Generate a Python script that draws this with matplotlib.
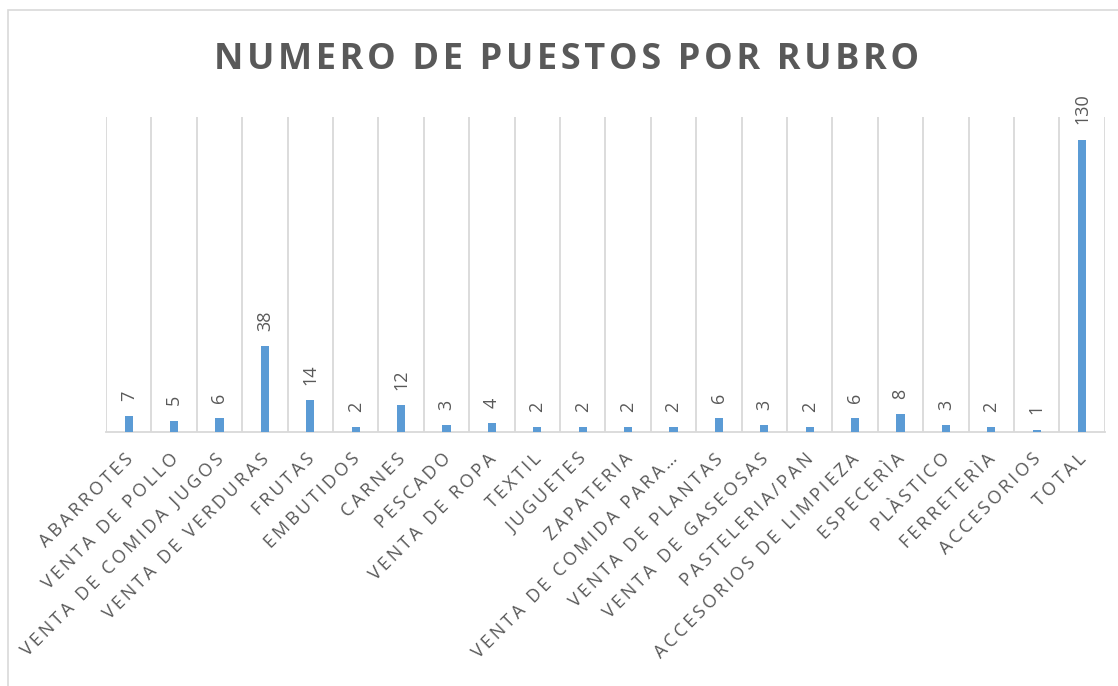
import matplotlib.pyplot as plt
import matplotlib.patches as patches
import matplotlib.transforms as mtransforms
import numpy as np

plt.rcParams['font.family'] = ['Open Sans', 'DejaVu Sans']

rubros = ['ABARROTES', 'VENTA DE POLLO', 'VENTA DE COMIDA JUGOS', 'VENTA DE VERDURAS',
          'FRUTAS', 'EMBUTIDOS', 'CARNES', 'PESCADO', 'VENTA DE ROPA', 'TEXTIL',
          'JUGUETES', 'ZAPATERIA', 'VENTA DE COMIDA PARA…', 'VENTA DE PLANTAS',
          'VENTA DE GASEOSAS', 'PASTELERIA/PAN', 'ACCESORIOS DE LIMPIEZA', 'ESPECERÌA',
          'PLÀSTICO', 'FERRETERÌA', 'ACCESORIOS', 'TOTAL']
puestos = [7, 5, 6, 38, 14, 2, 12, 3, 4, 2, 2, 2, 2, 6, 3, 2, 6, 8, 3, 2, 1, 130]

gray = '#595959'
grid = '#d9d9d9'
blue = '#5b9bd5'


def spaced(s, sep):
    # fake letter spacing like the excel chart
    return sep.join(s)


fig = plt.figure(figsize=(11.18, 6.86), dpi=100)
ax = fig.add_axes([0.0948, 0.3703, 0.8934, 0.4591])

x = np.arange(len(rubros))
ax.bar(x, puestos, width=0.18, color=blue, zorder=3)
for xi, v in zip(x, puestos):
    ax.annotate(str(v), (xi, v), xytext=(0, 11), textcoords='offset points',
                rotation=90, ha='center', va='bottom', color=gray, fontsize=13)

ax.set_xlim(-0.5, len(rubros) - 0.5)
ax.set_ylim(0, 140)
ax.set_yticks([])
ax.set_xticks(x)
ax.set_xticklabels([spaced(r, '\u2009') for r in rubros], rotation=45, ha='right',
                   rotation_mode='anchor', color=gray, fontsize=13)
ax.tick_params(axis='x', length=0, pad=13)
shift = mtransforms.ScaledTranslation(-5 / 100, 0, fig.dpi_scale_trans)
for lab in ax.get_xticklabels():
    lab.set_transform(lab.get_transform() + shift)
ax.set_xticks(np.arange(-0.5, len(rubros), 1), minor=True)
ax.tick_params(axis='x', which='minor', length=0)
ax.grid(axis='x', which='minor', color=grid, linewidth=1.3, zorder=0)
ax.grid(axis='x', which='major', visible=False)
for s in ['top', 'left', 'right']:
    ax.spines[s].set_visible(False)
ax.spines['bottom'].set_color(grid)
ax.spines['bottom'].set_linewidth(1.3)

fig.text(0.507, 0.912, spaced('NUMERO DE PUESTOS POR RUBRO', '\u200a'), ha='center',
         va='center', fontsize=26, fontweight='bold', color=gray)

fig.patches.append(patches.Rectangle((0.0072, -0.01), 1.0, 0.9954, transform=fig.transFigure,
                                     fill=False, edgecolor=grid, linewidth=1.2))

fig.savefig('out.png', dpi=100)
